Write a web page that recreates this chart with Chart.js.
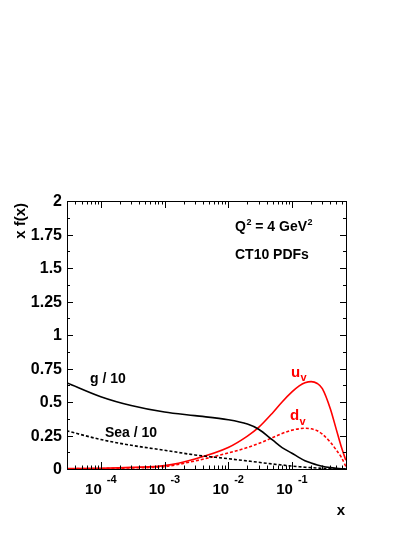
<!DOCTYPE html>
<html>
<head>
<meta charset="utf-8">
<script src="https://cdn.jsdelivr.net/npm/chart.js@4"></script>
<style>
  html, body { margin: 0; padding: 0; background: #fff; }
  canvas { display: block; }
</style>
</head>
<body>
<canvas id="pdf" width="415" height="537"></canvas>
<script>
// x grid (log scale) and the four PDFs, x*f(x)
const xValues  = [2.9e-5, 1e-4, 3e-4, 1e-3, 3e-3, 0.01, 0.02, 0.03, 0.05, 0.07, 0.1, 0.13, 0.16, 0.2, 0.25, 0.3, 0.4, 0.5, 0.6, 0.7];
const gluon10  = [0.645, 0.54, 0.474, 0.425, 0.398, 0.368, 0.335, 0.297, 0.215, 0.16, 0.118, 0.085, 0.062, 0.045, 0.03, 0.02, 0.01, 0.005, 0.002, 0.0];
const sea10    = [0.285, 0.22, 0.177, 0.14, 0.105, 0.077, 0.06, 0.05, 0.037, 0.03, 0.022, 0.017, 0.013, 0.01, 0.007, 0.005, 0.003, 0.001, 0.0005, 0.0];
const uValence = [0.003, 0.006, 0.012, 0.025, 0.075, 0.16, 0.245, 0.31, 0.42, 0.50, 0.575, 0.62, 0.643, 0.652, 0.638, 0.60, 0.45, 0.29, 0.16, 0.065];
const dValence = [0.002, 0.004, 0.008, 0.018, 0.06, 0.12, 0.16, 0.19, 0.235, 0.265, 0.29, 0.30, 0.304, 0.30, 0.285, 0.26, 0.20, 0.14, 0.085, 0.02];

const xMin = 2.95e-5, xMax = 0.705;
const yTicks = [0, 0.25, 0.5, 0.75, 1, 1.25, 1.5, 1.75, 2];
const yTickLabels = ['0', '0.25', '0.5', '0.75', '1', '1.25', '1.5', '1.75', '2'];
const xDecades = [1e-4, 1e-3, 1e-2, 1e-1];
const xDecadeExp = ['-4', '-3', '-2', '-1'];

const FONT = '"Liberation Sans", Arial, Helvetica, sans-serif';

function pts(ys) { return xValues.map((x, i) => ({ x: x, y: ys[i] })); }

function curve(label, ys, color, dashed) {
    return {
        label: label, data: pts(ys),
        borderColor: color, backgroundColor: color,
        borderWidth: 1.6, borderDash: dashed ? [3, 2] : [],
        pointRadius: 0, cubicInterpolationMode: 'monotone', fill: false
    };
}

// ROOT-style frame, inward ticks and bold labels
const rootFrame = {
    id: 'rootFrame',
    afterDatasetsDraw(chart) {
        const ctx = chart.ctx, a = chart.chartArea;
        const xs = chart.scales.x, ys = chart.scales.y;
        ctx.save();
        ctx.strokeStyle = '#000';
        ctx.lineWidth = 1;

        // y ticks: major every 0.25, minor every 0.125, both sides
        for (let v = 0; v <= 2.0001; v += 0.125) {
            const py = Math.round(ys.getPixelForValue(v)) + 0.5;
            const major = Math.abs(v / 0.25 - Math.round(v / 0.25)) < 1e-6;
            const len = major ? 6 : 3;
            ctx.beginPath();
            ctx.moveTo(a.left, py); ctx.lineTo(a.left + len, py);
            ctx.moveTo(a.right, py); ctx.lineTo(a.right - len, py);
            ctx.stroke();
        }
        // x ticks: decades long, 2..9 short, top and bottom
        for (let e = -5; e <= 0; e++) {
            for (let k = 1; k <= 9; k++) {
                const v = k * Math.pow(10, e);
                if (v < xMin || v > xMax) continue;
                const px = Math.round(xs.getPixelForValue(v)) + 0.5;
                const len = k === 1 ? 7 : 3.5;
                ctx.beginPath();
                ctx.moveTo(px, a.bottom); ctx.lineTo(px, a.bottom - len);
                ctx.moveTo(px, a.top); ctx.lineTo(px, a.top + len);
                ctx.stroke();
            }
        }
        ctx.strokeRect(Math.round(a.left) + 0.5, Math.round(a.top) + 0.5,
                       Math.round(a.right - a.left), Math.round(a.bottom - a.top));

        ctx.fillStyle = '#000';
        // y tick labels
        ctx.font = 'bold 16px ' + FONT;
        ctx.textAlign = 'right';
        ctx.textBaseline = 'middle';
        yTicks.forEach((v, i) => {
            ctx.fillText(yTickLabels[i], 62, ys.getPixelForValue(v) + 1);
        });
        // x tick labels 10^n
        ctx.textBaseline = 'alphabetic';
        ctx.textAlign = 'left';
        xDecades.forEach((v, i) => {
            ctx.font = 'bold 15px ' + FONT;
            const w1 = ctx.measureText('10').width;
            ctx.font = 'bold 11px ' + FONT;
            const w2 = ctx.measureText(xDecadeExp[i]).width;
            const gap = 5;
            const x0 = xs.getPixelForValue(v) - (w1 + gap + w2) / 2;
            ctx.font = 'bold 15px ' + FONT;
            ctx.fillText('10', x0, 494);
            ctx.font = 'bold 11px ' + FONT;
            ctx.fillText(xDecadeExp[i], x0 + w1 + gap, 483);
        });

        // axis titles
        ctx.font = 'bold 15px ' + FONT;
        ctx.textAlign = 'right';
        ctx.fillText('x', 345, 515);
        ctx.save();
        ctx.translate(25, 203);
        ctx.rotate(-Math.PI / 2);
        ctx.fillText('x f(x)', 0, 0);
        ctx.restore();

        // annotations
        ctx.textAlign = 'left';
        ctx.font = 'bold 14px ' + FONT;
        ctx.fillText('g / 10', 90, 383);
        ctx.fillText('Sea / 10', 105, 437);

        let x = 235;
        ctx.fillText('Q', x, 231); x += ctx.measureText('Q').width;
        ctx.font = 'bold 9px ' + FONT;
        ctx.fillText('2', x + 0.5, 225); x += ctx.measureText('2').width + 0.5;
        ctx.font = 'bold 14px ' + FONT;
        ctx.fillText(' = 4 GeV', x, 231); x += ctx.measureText(' = 4 GeV').width;
        ctx.font = 'bold 9px ' + FONT;
        ctx.fillText('2', x + 0.5, 225);
        ctx.font = 'bold 14px ' + FONT;
        ctx.fillText('CT10 PDFs', 235, 259);

        ctx.fillStyle = '#ff0000';
        ctx.font = 'bold 15px ' + FONT;
        ctx.fillText('u', 291, 377);
        ctx.fillText('d', 290, 420);
        ctx.font = 'bold 11px ' + FONT;
        ctx.fillText('v', 300.5, 381);
        ctx.fillText('v', 299.5, 425);
        ctx.restore();
    }
};

new Chart(document.getElementById('pdf'), {
    type: 'line',
    data: {
        datasets: [
            curve('g / 10', gluon10, '#000000', false),
            curve('Sea / 10', sea10, '#000000', true),
            curve('u_v', uValence, '#ff0000', false),
            curve('d_v', dValence, '#ff0000', true)
        ]
    },
    options: {
        responsive: false, animation: false,
        layout: { padding: { left: 67, right: 69, top: 201, bottom: 68 } },
        plugins: { legend: { display: false }, tooltip: { enabled: false } },
        scales: {
            x: { type: 'logarithmic', min: xMin, max: xMax, display: false },
            y: { type: 'linear', min: 0, max: 2, display: false }
        }
    },
    plugins: [rootFrame]
});
</script>
</body>
</html>
